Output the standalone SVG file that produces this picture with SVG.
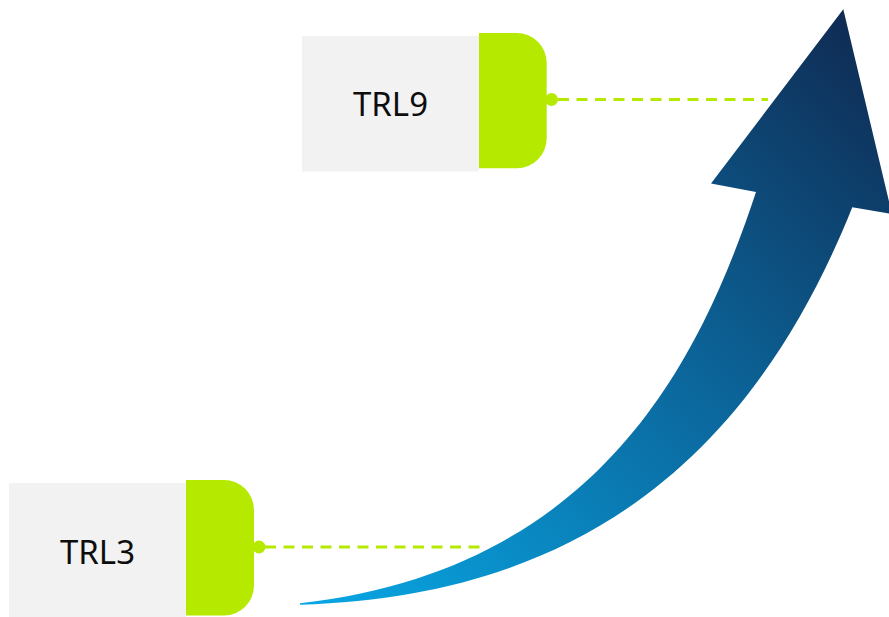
<svg xmlns="http://www.w3.org/2000/svg" width="889" height="617" viewBox="0 0 889 617">
  <defs>
    <linearGradient id="arrowGrad" gradientUnits="userSpaceOnUse" x1="320" y1="610" x2="870" y2="30">
      <stop offset="0" stop-color="#08a6e3"/>
      <stop offset="0.5" stop-color="#0b6aa0"/>
      <stop offset="1" stop-color="#0f2b53"/>
    </linearGradient>
    <style>
      .box { fill: #f2f2f2; }
      .tab { fill: #b5e900; }
      .label { font-family: "Noto Sans", "Open Sans", sans-serif; font-size: 33px; fill: #0d0d0d; text-anchor: middle; }
      .dash { stroke: #b5e900; stroke-width: 3; stroke-dasharray: 11 7.5; fill: none; }
      .dot { fill: #b5e900; }
    </style>
  </defs>
  <rect width="889" height="617" fill="#ffffff"/>

  <g id="arrow">
    <path fill="url(#arrowGrad)" d="M300,603.3 C600,569 700.2,360 756,192 L711,183.5 L843.3,9.3 L892,214 L852.3,207.3 C760,437 600,596 300,604.7 Z"/>
  </g>

  <g id="connectors">
    <line class="dash" x1="558" y1="99.5" x2="768" y2="99.5"/>
    <line class="dash" x1="265" y1="547" x2="484" y2="547"/>
  </g>

  <g id="trl9">
    <rect class="box" x="302" y="36" width="177" height="135.5"/>
    <circle class="dot" cx="551.5" cy="99.5" r="6.5"/>
    <path class="tab" d="M479,33 H516.7 A30,30 0 0 1 546.7,63 V138.3 A30,30 0 0 1 516.7,168.3 H479 Z"/>
    <text class="label" x="390.5" y="116">TRL9</text>
  </g>

  <g id="trl3">
    <rect class="box" x="9" y="483" width="177" height="136"/>
    <circle class="dot" cx="259" cy="547" r="6.5"/>
    <path class="tab" d="M186,480 H224 A30,30 0 0 1 254,510 V585.5 A30,30 0 0 1 224,615.5 H186 Z"/>
    <text class="label" x="97.5" y="564">TRL3</text>
  </g>
</svg>
